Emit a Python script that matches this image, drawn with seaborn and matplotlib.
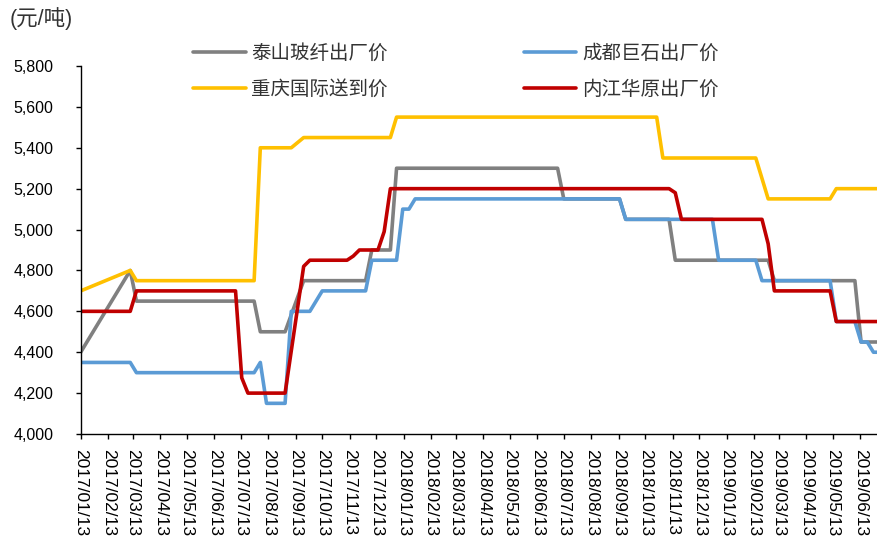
import pandas as pd
import seaborn as sns
import matplotlib.pyplot as plt
import matplotlib.dates as mdates
from matplotlib.ticker import FuncFormatter

sns.set_style("ticks")
plt.rcParams['font.family'] = ['Liberation Sans', 'Noto Sans CJK SC']
plt.rcParams['axes.unicode_minus'] = False

# weekly quotes, only the turning points are listed (Excel joins them with straight lines)
taishan_dates = ["2017-01-13", "2017-03-10", "2017-03-17", "2017-07-28", "2017-08-04", "2017-09-01",
                 "2017-09-22", "2017-12-01", "2017-12-08", "2017-12-29", "2018-01-05", "2018-07-06",
                 "2018-07-13", "2018-09-14", "2018-09-21", "2018-11-09", "2018-11-16", "2019-03-01",
                 "2019-03-08", "2019-06-07", "2019-06-14", "2019-07-05"]
taishan_price = [4400, 4800, 4650, 4650, 4500, 4500,
                 4750, 4750, 4900, 4900, 5300, 5300,
                 5150, 5150, 5050, 5050, 4850, 4850,
                 4750, 4750, 4450, 4450]

jushi_dates = ["2017-01-13", "2017-03-10", "2017-03-17", "2017-07-28", "2017-08-04", "2017-08-11",
               "2017-09-01", "2017-09-08", "2017-09-29", "2017-10-13", "2017-12-01", "2017-12-08",
               "2018-01-05", "2018-01-12", "2018-01-19", "2018-01-26", "2018-09-14", "2018-09-21",
               "2018-12-28", "2019-01-04", "2019-02-15", "2019-02-22", "2019-05-10", "2019-05-17",
               "2019-06-07", "2019-06-14", "2019-06-21", "2019-06-28", "2019-07-05"]
jushi_price = [4350, 4350, 4300, 4300, 4350, 4150,
               4150, 4600, 4600, 4700, 4700, 4850,
               4850, 5100, 5100, 5150, 5150, 5050,
               5050, 4850, 4850, 4750, 4750, 4550,
               4550, 4450, 4450, 4400, 4400]

chongqing_dates = ["2017-01-13", "2017-03-10", "2017-03-17", "2017-07-28", "2017-08-04", "2017-09-08",
                   "2017-09-22", "2017-12-29", "2018-01-05", "2018-10-26", "2018-11-02", "2019-02-15",
                   "2019-03-01", "2019-05-10", "2019-05-17", "2019-07-05"]
chongqing_price = [4700, 4800, 4750, 4750, 5400, 5400,
                   5450, 5450, 5550, 5550, 5350, 5350,
                   5150, 5150, 5200, 5200]

huayuan_dates = ["2017-01-13", "2017-03-10", "2017-03-17", "2017-07-07", "2017-07-14", "2017-07-21",
                 "2017-09-01", "2017-09-22", "2017-09-29", "2017-11-10", "2017-11-17", "2017-11-24",
                 "2017-12-15", "2017-12-22", "2017-12-29", "2018-11-09", "2018-11-16", "2018-11-23",
                 "2019-02-22", "2019-03-01", "2019-03-08", "2019-05-10", "2019-05-17", "2019-07-05"]
huayuan_price = [4600, 4600, 4700, 4700, 4275, 4200,
                 4200, 4820, 4850, 4850, 4870, 4900,
                 4900, 4990, 5200, 5200, 5180, 5050,
                 5050, 4930, 4700, 4700, 4550, 4550]

series_names = ["泰山玻纤出厂价", "重庆国际送到价", "成都巨石出厂价", "内江华原出厂价"]
series_colors = ["#808080", "#FFC000", "#5B9BD5", "#C00000"]

frames = []
for name, d, v in zip(series_names,
                      [taishan_dates, chongqing_dates, jushi_dates, huayuan_dates],
                      [taishan_price, chongqing_price, jushi_price, huayuan_price]):
    frames.append(pd.DataFrame({"date": pd.to_datetime(d), "price": v, "series": name}))
df = pd.concat(frames, ignore_index=True)

fig = plt.figure(figsize=(8.77, 5.39), dpi=100)
ax = fig.add_axes([80.7 / 877, 1 - 434 / 539, (877 - 80.7) / 877, (434 - 66) / 539])

sns.lineplot(data=df, x="date", y="price", hue="series", hue_order=series_names,
             palette=series_colors, estimator=None, sort=True, linewidth=2.6,
             legend=False, ax=ax)

ax.set_ylim(4000, 5800)
ax.set_yticks(range(4000, 5801, 200))
ax.yaxis.set_major_formatter(FuncFormatter(lambda v, p: f"{v:,.0f}"))
ax.set_xlim(pd.Timestamp("2017-01-13"), pd.Timestamp("2019-07-02"))
ax.xaxis.set_major_locator(mdates.MonthLocator(bymonthday=13))
ax.xaxis.set_major_formatter(mdates.DateFormatter("%Y/%m/%d"))
ax.set_xlabel("")
ax.set_ylabel("")

for s in ["top", "right"]:
    ax.spines[s].set_visible(False)
for s in ["left", "bottom"]:
    ax.spines[s].set_color("black")
    ax.spines[s].set_linewidth(1.0)

ax.tick_params(axis="y", direction="out", length=3.5, width=1, pad=16, labelsize=11.5, colors="black")
ax.tick_params(axis="x", direction="out", length=3.5, width=1, pad=7, labelsize=12.5, colors="black")
plt.setp(ax.get_xticklabels(), rotation=270, ha="center", va="top")

for line, name in zip(ax.get_lines(), series_names):
    line.set_label(name)
ax.legend(handles=ax.get_lines()[:4], ncol=2, frameon=False, loc="upper left",
          bbox_to_anchor=(193 / 877, 1 - 44 / 539), bbox_transform=fig.transFigure,
          borderpad=0, borderaxespad=0, handlelength=2.7, handletextpad=0.3,
          columnspacing=7.0, labelspacing=0.9, prop={"size": 14}, labelcolor="#333333")

fig.text(10 / 877, 1 - 19 / 539, "(元/吨)", fontsize=15.5, color="#333333", va="center", ha="left")

fig.savefig("out.png", dpi=100)
